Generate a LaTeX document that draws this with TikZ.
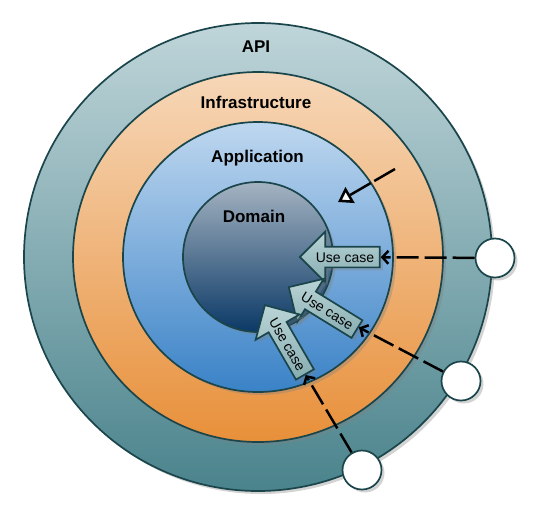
\documentclass[tikz,border=0pt]{standalone}
\usepackage{fontspec}
\setmainfont{Liberation Sans}
\usetikzlibrary{arrows.meta, shapes.arrows, shadows}

\definecolor{apitop}{HTML}{BFD5D9}
\definecolor{apibot}{HTML}{4A838C}
\definecolor{inftop}{HTML}{F6D7B8}
\definecolor{infbot}{HTML}{E8903A}
\definecolor{apptop}{HTML}{BED7EF}
\definecolor{appbot}{HTML}{3A82C7}
\definecolor{domtop}{HTML}{A4B3C1}
\definecolor{dombot}{HTML}{0B3966}
\definecolor{edge}{HTML}{1A454B}
\definecolor{uctop}{HTML}{BAD4D6}
\definecolor{ucbot}{HTML}{86ACB0}

\begin{document}
\begin{tikzpicture}[x=1pt, y=-1pt,
    shade/.style={drop shadow={shadow xshift=3pt, shadow yshift=-3pt, opacity=.35}},
    ring/.style={circle, draw=edge, line width=1.7pt, inner sep=0pt, shade},
    layer/.style={font=\bfseries\fontsize{17}{20}\selectfont, anchor=base},
    usecase/.style={single arrow, shape border rotate=180, draw=edge, line width=1.7pt,
        top color=uctop, bottom color=ucbot, minimum height=80pt,
        single arrow head extend=15pt, inner ysep=4.5pt, inner xsep=2pt,
        text height=10pt, text depth=0pt, font=\fontsize{14}{16}\selectfont, shade},
    port/.style={circle, draw=edge, line width=1.7pt, fill=white, minimum size=39pt,
        inner sep=0pt, shade},
    calls/.style={line width=2.5pt, dash pattern=on 22pt off 6pt,
        -{Straight Barb[length=6pt, width=13pt]}}
]
\useasboundingbox (0,0) rectangle (534,512);

\node[ring, minimum size=468pt, top color=apitop, bottom color=apibot] (api) at (258,257) {};
\node[ring, minimum size=370pt, top color=inftop, bottom color=infbot] (infra) at (258,257) {};
\node[ring, minimum size=270pt, top color=apptop, bottom color=appbot] (app) at (258,257) {};
\node[ring, minimum size=150pt, top color=domtop, bottom color=dombot] (dom) at (258,257) {};

\node[layer] at (256,52.7) {API};
\node[layer] at (256,108.3) {Infrastructure};
\node[layer] at (257.5,162.7) {Application};
\node[layer] at (254,222.7) {Domain};

\node[usecase] (uc1) at (345,257) {Use case};
\node[usecase, rotate=-31.6] (uc2) at (327.3,310.8) {Use case};
\node[usecase, rotate=-60] (uc3) at (287.5,344.3) {Use case};

\node[port] (p1) at (495,258) {};
\node[port] (p2) at (461,381) {};
\node[port] (p3) at (362,470) {};

\draw[calls] (p1) -- (uc1);
\draw[calls] (p2) -- (uc2);
\draw[calls] (p3) -- (uc3);

\coordinate (from) at (395,169);
\coordinate (to) at (338,202);
\draw[line width=2.5pt, dash pattern=on 24pt off 4pt,
    -{Triangle[open, fill=white, length=14pt, width=18pt]}] (from) -- (to);

\end{tikzpicture}
\end{document}
